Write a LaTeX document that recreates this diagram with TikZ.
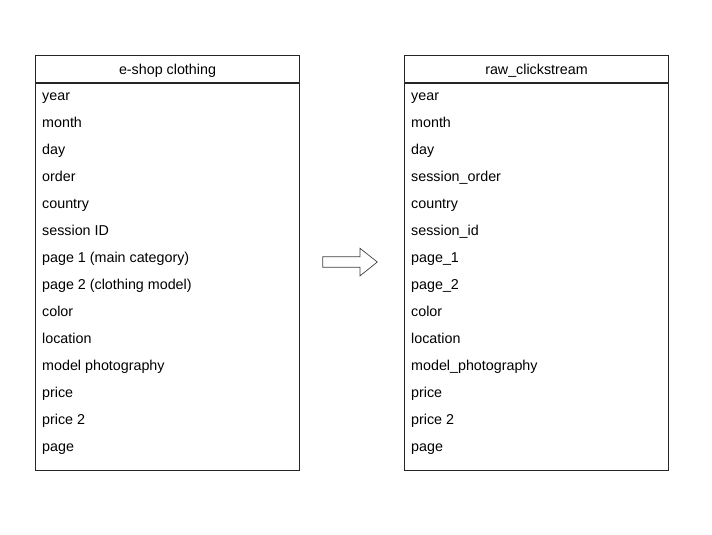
\documentclass[tikz,border=0pt]{standalone}
\usepackage{fontspec}
\setmainfont{Liberation Sans}
\usetikzlibrary{positioning}
\begin{document}
\begin{tikzpicture}
	[x=1pt,y=-1pt,
	tabbox/.style={draw=black!85,line width=0.8pt},
	head/.style={anchor=base,inner sep=0pt,font=\fontsize{14.3}{16}\selectfont},
	field/.style={anchor=base west,inner sep=0pt,font=\fontsize{14.3}{16}\selectfont},
	blockarrow/.style={draw=black!75,line width=0.7pt,fill=white}]
\useasboundingbox (0,0) rectangle (712,535);
%primera tabla
\node[tabbox,minimum width=264pt,minimum height=27pt,inner sep=0pt] (shoptop) at (167.5,69) {};
\node[tabbox,minimum width=264pt,minimum height=387pt,inner sep=0pt,below=0pt of shoptop] (shopbody) {};
\node[head] (shop) at (167.5,74.8) {e-shop clothing};
\foreach \name [count=\i] in {year,month,day,order,country,session ID,page 1 (main category),page 2 (clothing model),color,location,model photography,price,price 2,page}
	\node[field] (a\i) at (42,73.3+27*\i) {\name};
%segunda tabla
\node[tabbox,minimum width=264pt,minimum height=27pt,inner sep=0pt] (rawtop) at (536.5,69) {};
\node[tabbox,minimum width=264pt,minimum height=387pt,inner sep=0pt,below=0pt of rawtop] (rawbody) {};
\node[head] (raw) at (536.5,74.8) {raw\_clickstream};
\foreach \name [count=\i] in {year,month,day,session\_order,country,session\_id,page\_1,page\_2,color,location,model\_photography,price,price 2,page}
	\node[field] (b\i) at (411,73.3+27*\i) {\name};
%flecha
\coordinate (conv) at (322.7,262);
\draw[blockarrow] (conv) ++(0,-5.3) -- ++(37.3,0) -- ++(0,-8.4) -- ++(17.3,13.7)
	-- ++(-17.3,13.9) -- ++(0,-8.6) -- ++(-37.3,0) -- cycle;
\end{tikzpicture}
\end{document}
